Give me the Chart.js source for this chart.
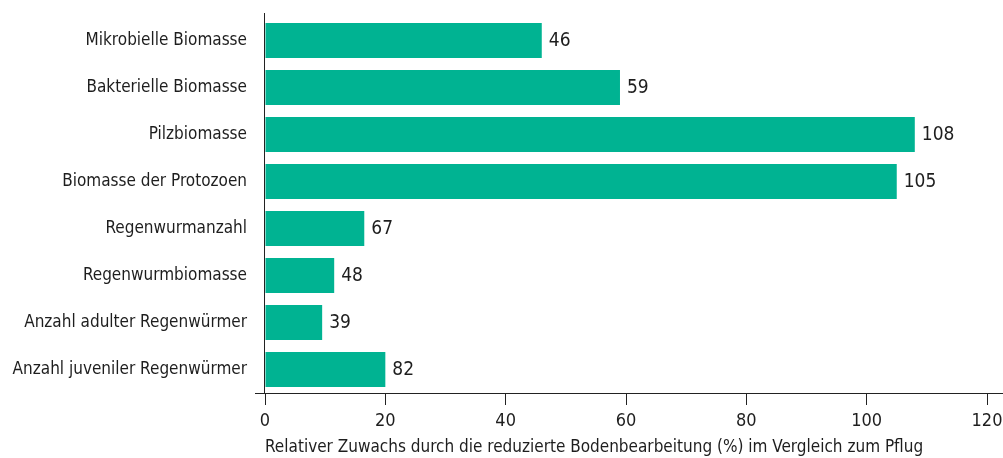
<!DOCTYPE html>
<html>
<head>
<meta charset="utf-8">
<script src="https://cdn.jsdelivr.net/npm/chart.js@4/dist/chart.umd.min.js"></script>
<style>
    html, body { margin: 0; padding: 0; background: #fff; }
    #wrap { width: 1003px; height: 458px; position: relative; }
</style>
</head>
<body>
<div id="wrap"><canvas id="chart"></canvas></div>
<script>
// Categories (top to bottom)
const categories = [
    'Mikrobielle Biomasse',
    'Bakterielle Biomasse',
    'Pilzbiomasse',
    'Biomasse der Protozoen',
    'Regenwurmanzahl',
    'Regenwurmbiomasse',
    'Anzahl adulter Regenwürmer',
    'Anzahl juveniler Regenwürmer'
];

// Bar lengths as drawn in the picture
const barValues = [46, 59, 108, 105, 16.5, 11.5, 9.5, 20];

// Numbers printed next to each bar
const valueLabels = ['46', '59', '108', '105', '67', '48', '39', '82'];

// X axis ticks
const xTicks = [0, 20, 40, 60, 80, 100, 120];

const axisTitle = 'Relativer Zuwachs durch die reduzierte Bodenbearbeitung (%) im Vergleich zum Pflug';

const FONT = '"Liberation Sans Narrow", "DejaVu Sans Condensed", "Open Sans", sans-serif';
const TEXT = '#1e1e1e';
const BAR = '#00b392';

// Axis lines + value labels
const extras = {
    id: 'extras',
    afterDatasetsDraw(chart) {
        const { ctx, chartArea } = chart;
        ctx.save();
        ctx.strokeStyle = '#222';
        ctx.lineWidth = 1;
        ctx.beginPath();
        ctx.moveTo(chartArea.left - 0.5, chartArea.top - 4);
        ctx.lineTo(chartArea.left - 0.5, chartArea.bottom);
        ctx.moveTo(chartArea.left - 10, chartArea.bottom + 0.5);
        ctx.lineTo(chart.width, chartArea.bottom + 0.5);
        ctx.stroke();

        ctx.fillStyle = TEXT;
        ctx.font = '19px ' + FONT;
        ctx.textAlign = 'left';
        ctx.textBaseline = 'middle';
        const meta = chart.getDatasetMeta(0);
        meta.data.forEach((bar, i) => {
            ctx.fillText(valueLabels[i], bar.x + 7, bar.y + 1);
        });
        ctx.restore();
    }
};

new Chart(document.getElementById('chart'), {
    type: 'bar',
    data: {
        labels: categories,
        datasets: [{
            data: barValues,
            backgroundColor: BAR,
            borderWidth: 0,
            barPercentage: 0.745,
            categoryPercentage: 1
        }]
    },
    options: {
        indexAxis: 'y',
        responsive: true,
        maintainAspectRatio: false,
        animation: false,
        layout: { padding: { top: 17, right: 16, bottom: 0, left: 0 } },
        plugins: {
            legend: { display: false },
            tooltip: { enabled: false }
        },
        scales: {
            x: {
                min: 0,
                max: 120,
                afterBuildTicks(scale) {
                    scale.ticks = xTicks.map(v => ({ value: v }));
                },
                afterFit(scale) {
                    scale.height = 65;
                    scale.paddingLeft = 0;
                    scale.paddingRight = 0;
                },
                border: { display: false },
                grid: {
                    drawOnChartArea: false,
                    drawTicks: true,
                    tickLength: 12,
                    color: '#222'
                },
                ticks: {
                    color: TEXT,
                    padding: 6,
                    font: { family: FONT, size: 18 }
                },
                title: {
                    display: true,
                    text: axisTitle,
                    align: 'start',
                    color: TEXT,
                    padding: 0,
                    font: { family: FONT, size: 17 }
                }
            },
            y: {
                afterFit(scale) {
                    scale.width = 265;
                    scale.paddingTop = 0;
                    scale.paddingBottom = 0;
                },
                border: { display: false },
                grid: { display: false, drawTicks: false },
                ticks: {
                    color: TEXT,
                    padding: 18,
                    font: { family: FONT, size: 17 }
                }
            }
        }
    },
    plugins: [extras]
});
</script>
</body>
</html>
